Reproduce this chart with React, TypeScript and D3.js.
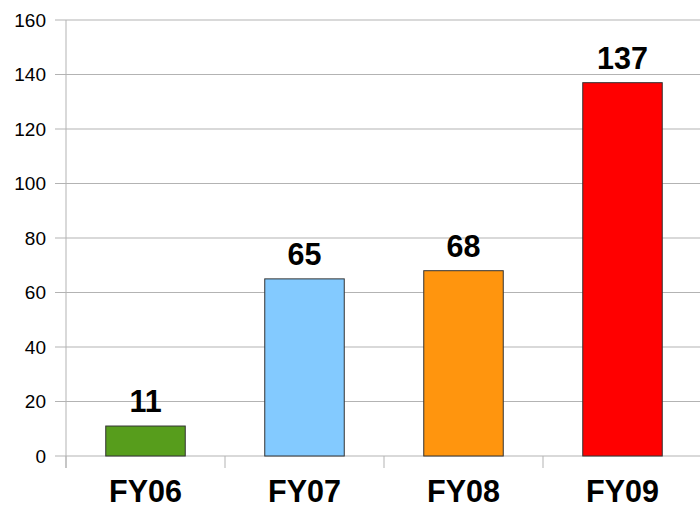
import React from "react";
import * as d3 from "d3";

const categories = ["FY06", "FY07", "FY08", "FY09"];
const values = [11, 65, 68, 137];
const colors = ["#579D1C", "#83CAFF", "#FF950E", "#FF0000"];
const yTicks = [0, 20, 40, 60, 80, 100, 120, 140, 160];

export default function App() {
  const W = 700, H = 507;
  const left = 66, right = 702, top = 20, bottom = 456;
  const x = d3.scaleBand<string>().domain(categories).range([left, right]).paddingInner(0).paddingOuter(0);
  const y = d3.scaleLinear().domain([0, 160]).range([bottom, top]);
  const bw = x.bandwidth() * 0.5;
  const font = "'Liberation Sans', Arial, sans-serif";
  return (
    <svg width={W} height={H} style={{ position: "absolute", left: 0, top: 0, background: "#fff" }} fontFamily={font}>
      {yTicks.map((t) => (
        <g key={t}>
          <line x1={55} x2={W} y1={y(t)} y2={y(t)} stroke="#b3b3b3" strokeWidth={1} />
          <text x={46} y={y(t)} dy="0.35em" textAnchor="end" fontSize={19} fill="#000">{t}</text>
        </g>
      ))}
      <line x1={left} x2={left} y1={top} y2={468} stroke="#b3b3b3" strokeWidth={1} />
      {categories.map((c) => (
        <line key={"tk" + c} x1={x(c)!} x2={x(c)!} y1={bottom} y2={468} stroke="#b3b3b3" strokeWidth={1} />
      ))}
      {categories.map((c, i) => {
        const cx = x(c)! + x.bandwidth() / 2;
        return (
          <g key={c}>
            <rect x={cx - bw / 2} y={y(values[i])} width={bw} height={bottom - y(values[i])} fill={colors[i]} stroke="#333" strokeWidth={1} />
            <text x={cx} y={y(values[i]) - 14} textAnchor="middle" fontSize={30.5} fontWeight="bold" fill="#000">{values[i]}</text>
            <text x={cx} y={502} textAnchor="middle" fontSize={30.5} fontWeight="bold" fill="#000">{c}</text>
          </g>
        );
      })}
    </svg>
  );
}
